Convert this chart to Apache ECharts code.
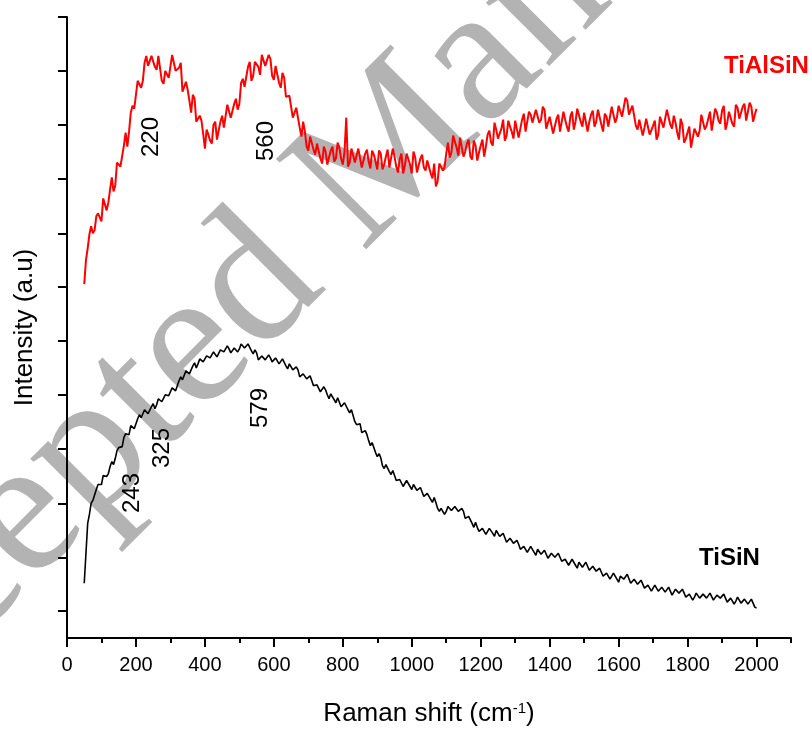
<!DOCTYPE html>
<html>
<head>
<meta charset="utf-8">
<script src="https://cdn.jsdelivr.net/npm/echarts@6/dist/echarts.min.js"></script>
<style>
  html, body { margin: 0; padding: 0; background: #fff; }
  #chart { width: 812px; height: 732px; }
</style>
</head>
<body>
<div id="chart"></div>
<script>
// Raman shift sampling (cm-1): first point and step
const shiftStart = 50;
const shiftStep = 5;

// intensity (a.u.), one value per 5 cm-1 from 50 to 2000
const tialsin = [
  328, 352, 364, 378, 386, 379, 382, 396, 399, 395, 391, 414, 415, 402, 410, 423, 435, 421, 427, 450,
  448, 446, 447, 467, 480, 466, 481, 500, 507, 504, 503, 532, 533, 525, 532, 550, 557, 547, 547, 557,
  556, 546, 543, 557, 556, 532, 529, 542, 542, 535, 535, 558, 556, 542, 542, 545, 550, 521, 522, 531,
  523, 512, 500, 518, 514, 491, 491, 497, 492, 479, 464, 483, 478, 472, 469, 488, 491, 473, 482, 491,
  497, 485, 487, 508, 510, 495, 494, 509, 514, 503, 509, 530, 534, 526, 528, 546, 551, 532, 537, 551,
  550, 546, 538, 558, 559, 547, 546, 558, 554, 537, 533, 547, 546, 530, 525, 540, 535, 516, 516, 517,
  519, 495, 495, 505, 504, 485, 476, 491, 481, 466, 462, 476, 474, 463, 458, 469, 470, 454, 449, 466,
  461, 448, 447, 462, 466, 451, 454, 470, 465, 454, 448, 461, 495, 446, 450, 464, 465, 450, 450, 464,
  463, 445, 446, 459, 463, 451, 444, 462, 458, 451, 443, 462, 459, 443, 448, 456, 463, 445, 446, 464,
  456, 446, 440, 453, 459, 439, 447, 459, 459, 448, 439, 461, 455, 440, 440, 454, 458, 445, 442, 452,
  451, 439, 434, 449, 426, 431, 449, 450, 442, 445, 459, 470, 455, 460, 477, 471, 465, 457, 475, 474,
  456, 461, 469, 473, 456, 453, 472, 467, 452, 460, 467, 473, 456, 466, 478, 482, 470, 467, 490, 483,
  474, 474, 484, 493, 472, 477, 492, 486, 481, 474, 492, 494, 475, 484, 493, 499, 481, 481, 501, 498,
  490, 492, 503, 504, 490, 493, 506, 503, 484, 483, 496, 495, 479, 481, 494, 498, 481, 482, 501, 493,
  486, 481, 496, 501, 483, 491, 504, 505, 491, 486, 500, 500, 481, 491, 498, 502, 486, 491, 503, 501,
  488, 481, 499, 496, 486, 487, 506, 508, 490, 495, 507, 507, 496, 495, 515, 512, 498, 497, 507, 506,
  487, 483, 493, 495, 477, 485, 494, 492, 478, 479, 487, 492, 473, 478, 496, 496, 485, 486, 503, 503,
  488, 484, 497, 490, 480, 473, 494, 488, 470, 474, 480, 486, 465, 467, 484, 485, 476, 482, 498, 496,
  483, 487, 494, 501, 482, 484, 504, 500, 492, 489, 502, 507, 483, 490, 501, 499, 489, 486, 508, 505,
  494, 494, 506, 509, 492, 490, 510, 506, 491, 498, 504
];
const tisin = [
  28, 58, 88, 97, 108, 111, 112, 122, 127, 125, 127, 136, 136, 135, 138, 145, 150, 147, 153, 161,
  164, 164, 165, 174, 178, 176, 177, 186, 187, 183, 185, 193, 197, 194, 194, 202, 200, 198, 199, 205,
  208, 203, 207, 213, 213, 210, 209, 217, 219, 216, 216, 224, 225, 221, 223, 231, 235, 232, 233, 241,
  240, 238, 240, 246, 249, 244, 248, 253, 253, 250, 249, 256, 258, 254, 253, 260, 260, 255, 255, 262,
  264, 260, 259, 266, 263, 259, 259, 264, 266, 260, 263, 268, 267, 264, 262, 268, 268, 261, 258, 262,
  259, 252, 251, 256, 257, 252, 250, 257, 254, 250, 250, 254, 255, 248, 250, 253, 251, 246, 243, 248,
  248, 242, 240, 245, 242, 235, 233, 238, 239, 233, 231, 236, 231, 226, 224, 227, 228, 220, 222, 225,
  222, 217, 213, 218, 218, 212, 209, 214, 212, 205, 204, 209, 209, 202, 199, 202, 196, 190, 187, 189,
  188, 179, 179, 181, 177, 171, 166, 169, 167, 159, 155, 158, 154, 146, 143, 147, 147, 140, 137, 141,
  136, 131, 129, 132, 133, 125, 127, 131, 129, 125, 122, 127, 127, 121, 119, 124, 122, 115, 113, 118,
  118, 112, 109, 114, 109, 103, 100, 103, 104, 97, 100, 105, 104, 101, 99, 105, 106, 100, 98, 103,
  100, 93, 91, 95, 95, 88, 84, 89, 84, 80, 79, 83, 84, 77, 79, 83, 82, 78, 75, 81,
  81, 75, 73, 78, 76, 69, 68, 73, 74, 68, 66, 71, 67, 62, 61, 65, 66, 59, 61, 65,
  63, 59, 56, 62, 62, 57, 55, 61, 59, 53, 52, 58, 59, 54, 52, 58, 54, 50, 49, 52,
  53, 46, 48, 52, 50, 46, 43, 49, 49, 44, 43, 49, 47, 41, 40, 45, 46, 40, 38, 43,
  39, 35, 34, 38, 39, 32, 34, 38, 36, 32, 29, 35, 36, 32, 31, 37, 35, 28, 27, 32,
  32, 27, 25, 31, 27, 23, 22, 26, 27, 20, 22, 26, 24, 20, 18, 24, 24, 19, 18, 24,
  22, 16, 16, 22, 23, 18, 16, 22, 18, 14, 13, 17, 18, 11, 14, 18, 17, 13, 11, 17,
  18, 13, 12, 18, 17, 11, 10, 16, 18, 13, 11, 17, 13, 9, 9, 13, 14, 7, 10, 14,
  12, 8, 6, 12, 12, 7, 6, 12, 10, 4, 3
];

const xTicks = [0, 200, 400, 600, 800, 1000, 1200, 1400, 1600, 1800, 2000];
const xMinorTicks = [100, 300, 500, 700, 900, 1100, 1300, 1500, 1700, 1900, 2100];
const yTicks = [0, 54, 108, 163, 217, 271, 325, 379, 434, 488, 542, 596];

const peakLabels = ['220', '560', '243', '325', '579'];

function toPairs(vals) {
  return vals.map(function (v, i) { return [shiftStart + shiftStep * i, v]; });
}

const chart = echarts.init(document.getElementById('chart'));

const font = '"Liberation Sans", Arial, sans-serif';
// where the rotated peak numbers sit on the page
const peakPos = [[151, 137], [266, 141], [132, 493], [162, 448], [260, 408]];

const option = {
  animation: false,
  backgroundColor: '#fff',
  grid: { left: 67, right: 21, top: 17, bottom: 92, containLabel: false },
  xAxis: [
    {
      type: 'value',
      min: 0,
      max: 2100,
      position: 'bottom',
      name: 'Raman shift (cm{sup|-1})',
      nameLocation: 'middle',
      nameGap: 63,
      nameTextStyle: {
        fontFamily: font, fontSize: 26, color: '#000',
        rich: { sup: { fontFamily: font, fontSize: 15, color: '#000', verticalAlign: 'top', lineHeight: 14 } }
      },
      axisLine: { show: true, onZero: false, lineStyle: { color: '#000', width: 2 } },
      axisTick: { show: true, customValues: xTicks, length: 9, lineStyle: { color: '#000', width: 2 } },
      axisLabel: {
        customValues: xTicks, fontFamily: font, fontSize: 20, color: '#000', margin: 17,
        formatter: function (v) { return String(v); }
      },
      splitLine: { show: false }
    },
    {
      type: 'value',
      min: 0,
      max: 2100,
      position: 'bottom',
      offset: 0,
      axisLine: { show: false, onZero: false },
      axisTick: { show: true, customValues: xMinorTicks, length: 5, lineStyle: { color: '#000', width: 2 } },
      axisLabel: { show: false },
      splitLine: { show: false }
    }
  ],
  yAxis: {
    type: 'value',
    min: -27,
    max: 596,
    name: 'Intensity (a.u)',
    nameLocation: 'middle',
    nameGap: 29,
    nameTextStyle: { fontFamily: font, fontSize: 26, color: '#000' },
    axisLine: { show: true, onZero: false, lineStyle: { color: '#000', width: 2 } },
    axisTick: { show: true, customValues: yTicks, length: 9, lineStyle: { color: '#000', width: 2 } },
    axisLabel: { show: false },
    splitLine: { show: false }
  },
  series: [
    {
      name: 'TiAlSiN',
      type: 'line',
      data: toPairs(tialsin),
      showSymbol: false,
      lineStyle: { color: '#ff0000', width: 2 },
      zlevel: 1
    },
    {
      name: 'TiSiN',
      type: 'line',
      data: toPairs(tisin),
      showSymbol: false,
      lineStyle: { color: '#000000', width: 1.6 },
      zlevel: 1
    }
  ],
  graphic: [
    // journal watermark, kept under the curves
    {
      type: 'text',
      x: -229, y: 772,
      rotation: Math.PI / 4,
      z: -1,
      silent: true,
      style: {
        text: 'Accepted Manuscript',
        font: '195px "Liberation Serif", "Times New Roman", serif',
        fill: '#b3b3b3',
        align: 'left', verticalAlign: 'middle',
        textAlign: 'left', textVerticalAlign: 'middle'
      }
    },
    {
      type: 'text', x: 724, y: 66, zlevel: 2,
      style: {
        text: 'TiAlSiN', font: 'bold 24px ' + font, fill: '#ff0000',
        align: 'left', verticalAlign: 'middle', textAlign: 'left', textVerticalAlign: 'middle'
      }
    },
    {
      type: 'text', x: 699, y: 558, zlevel: 2,
      style: {
        text: 'TiSiN', font: 'bold 24px ' + font, fill: '#000',
        align: 'left', verticalAlign: 'middle', textAlign: 'left', textVerticalAlign: 'middle'
      }
    }
  ].concat(peakLabels.map(function (t, i) {
    return {
      type: 'text', x: peakPos[i][0], y: peakPos[i][1], rotation: Math.PI / 2, zlevel: 2,
      style: {
        text: t, font: '24px ' + font, fill: '#000',
        align: 'center', verticalAlign: 'middle', textAlign: 'center', textVerticalAlign: 'middle'
      }
    };
  }))
};

chart.setOption(option);
</script>
</body>
</html>
